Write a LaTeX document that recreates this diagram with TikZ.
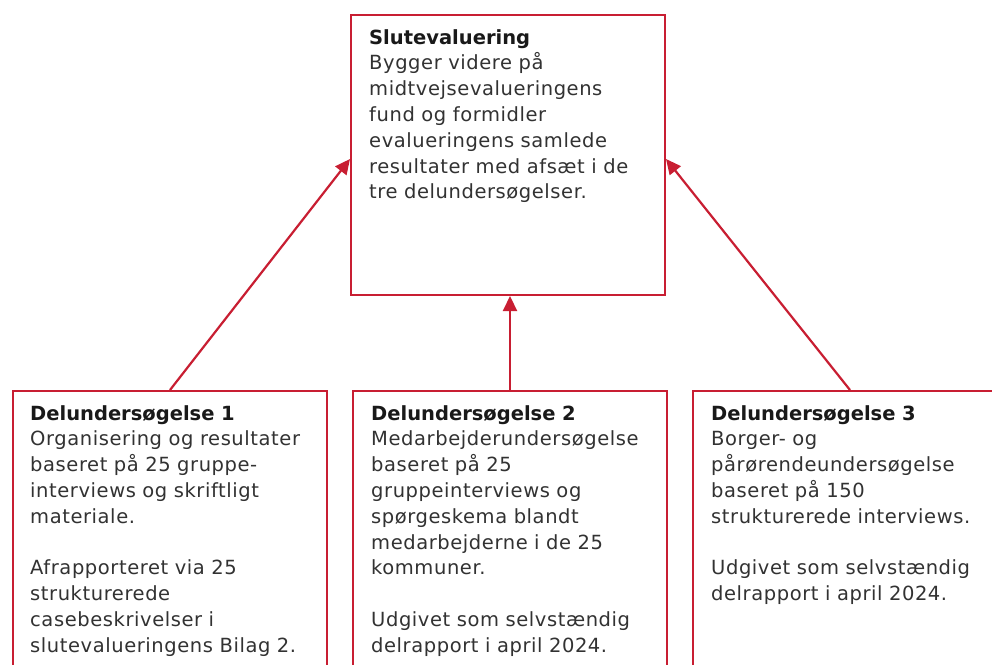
\documentclass[tikz,border=0pt]{standalone}
\usepackage{fontspec}
\setmainfont{DejaVu Sans}[LetterSpace=3]
\usetikzlibrary{arrows.meta,calc}
\definecolor{boxred}{RGB}{200,30,50}
\definecolor{bodytext}{RGB}{50,50,50}
\definecolor{titletext}{RGB}{25,25,25}
\tikzset{
  frame/.style={draw=boxred, line width=2pt, fill=white, rectangle, inner sep=0pt, minimum width=314pt, anchor=north west},
  txt/.style={anchor=north west, inner sep=0pt, text width=310pt, align=left, text=bodytext,
    font=\fontsize{19.5}{25.8}\selectfont},
  link/.style={draw=boxred, line width=2.2pt, -{Triangle[length=15pt,width=14pt]}},
}
\newcommand{\ttl}[1]{{\color{titletext}\bfseries\addfontfeature{LetterSpace=0}#1}}
\begin{document}
\begin{tikzpicture}[x=1pt,y=-1pt]
\useasboundingbox (0,0) rectangle (992,664);
\clip (0,0) rectangle (992,664);
\node[frame, minimum height=280pt] (top) at (350,14) {};
\node[frame, minimum height=290pt] (b1) at (12,390) {};
\node[frame, minimum height=290pt] (b2) at (352,390) {};
\node[frame, minimum height=290pt] (b3) at (692,390) {};
\node[txt] (ttop) at (369,29) {\ttl{Slutevaluering}\\
Bygger videre på\\ midtvejsevalueringens\\ fund og formidler\\ evalueringens samlede\\ resultater med afsæt i de\\ tre delundersøgelser.};
\node[txt] (t1) at (30,405) {\ttl{Delundersøgelse 1}\\
Organisering og resultater\\ baseret på 25 gruppe-\\ interviews og skriftligt\\ materiale.\\[25.8pt]
Afrapporteret via 25\\ strukturerede\\ casebeskrivelser i\\ slutevalueringens Bilag 2.};
\node[txt] (t2) at (371,405) {\ttl{Delundersøgelse 2}\\
Medarbejderundersøgelse\\ baseret på 25\\ gruppeinterviews og\\ spørgeskema blandt\\ medarbejderne i de 25\\ kommuner.\\[25.8pt]
Udgivet som selvstændig\\ delrapport i april 2024.};
\node[txt] (t3) at (711,405) {\ttl{Delundersøgelse 3}\\
Borger- og\\ pårørendeundersøgelse\\ baseret på 150\\ strukturerede interviews.\\[25.8pt]
Udgivet som selvstændig\\ delrapport i april 2024.};
\draw[link] (b1.north) -- ([yshift=-4pt]top.west);
\draw[link] (b2.north) -- (b2.north |- top.south);
\draw[link] (b3.north) -- ([yshift=-4pt]top.east);
\end{tikzpicture}
\end{document}
